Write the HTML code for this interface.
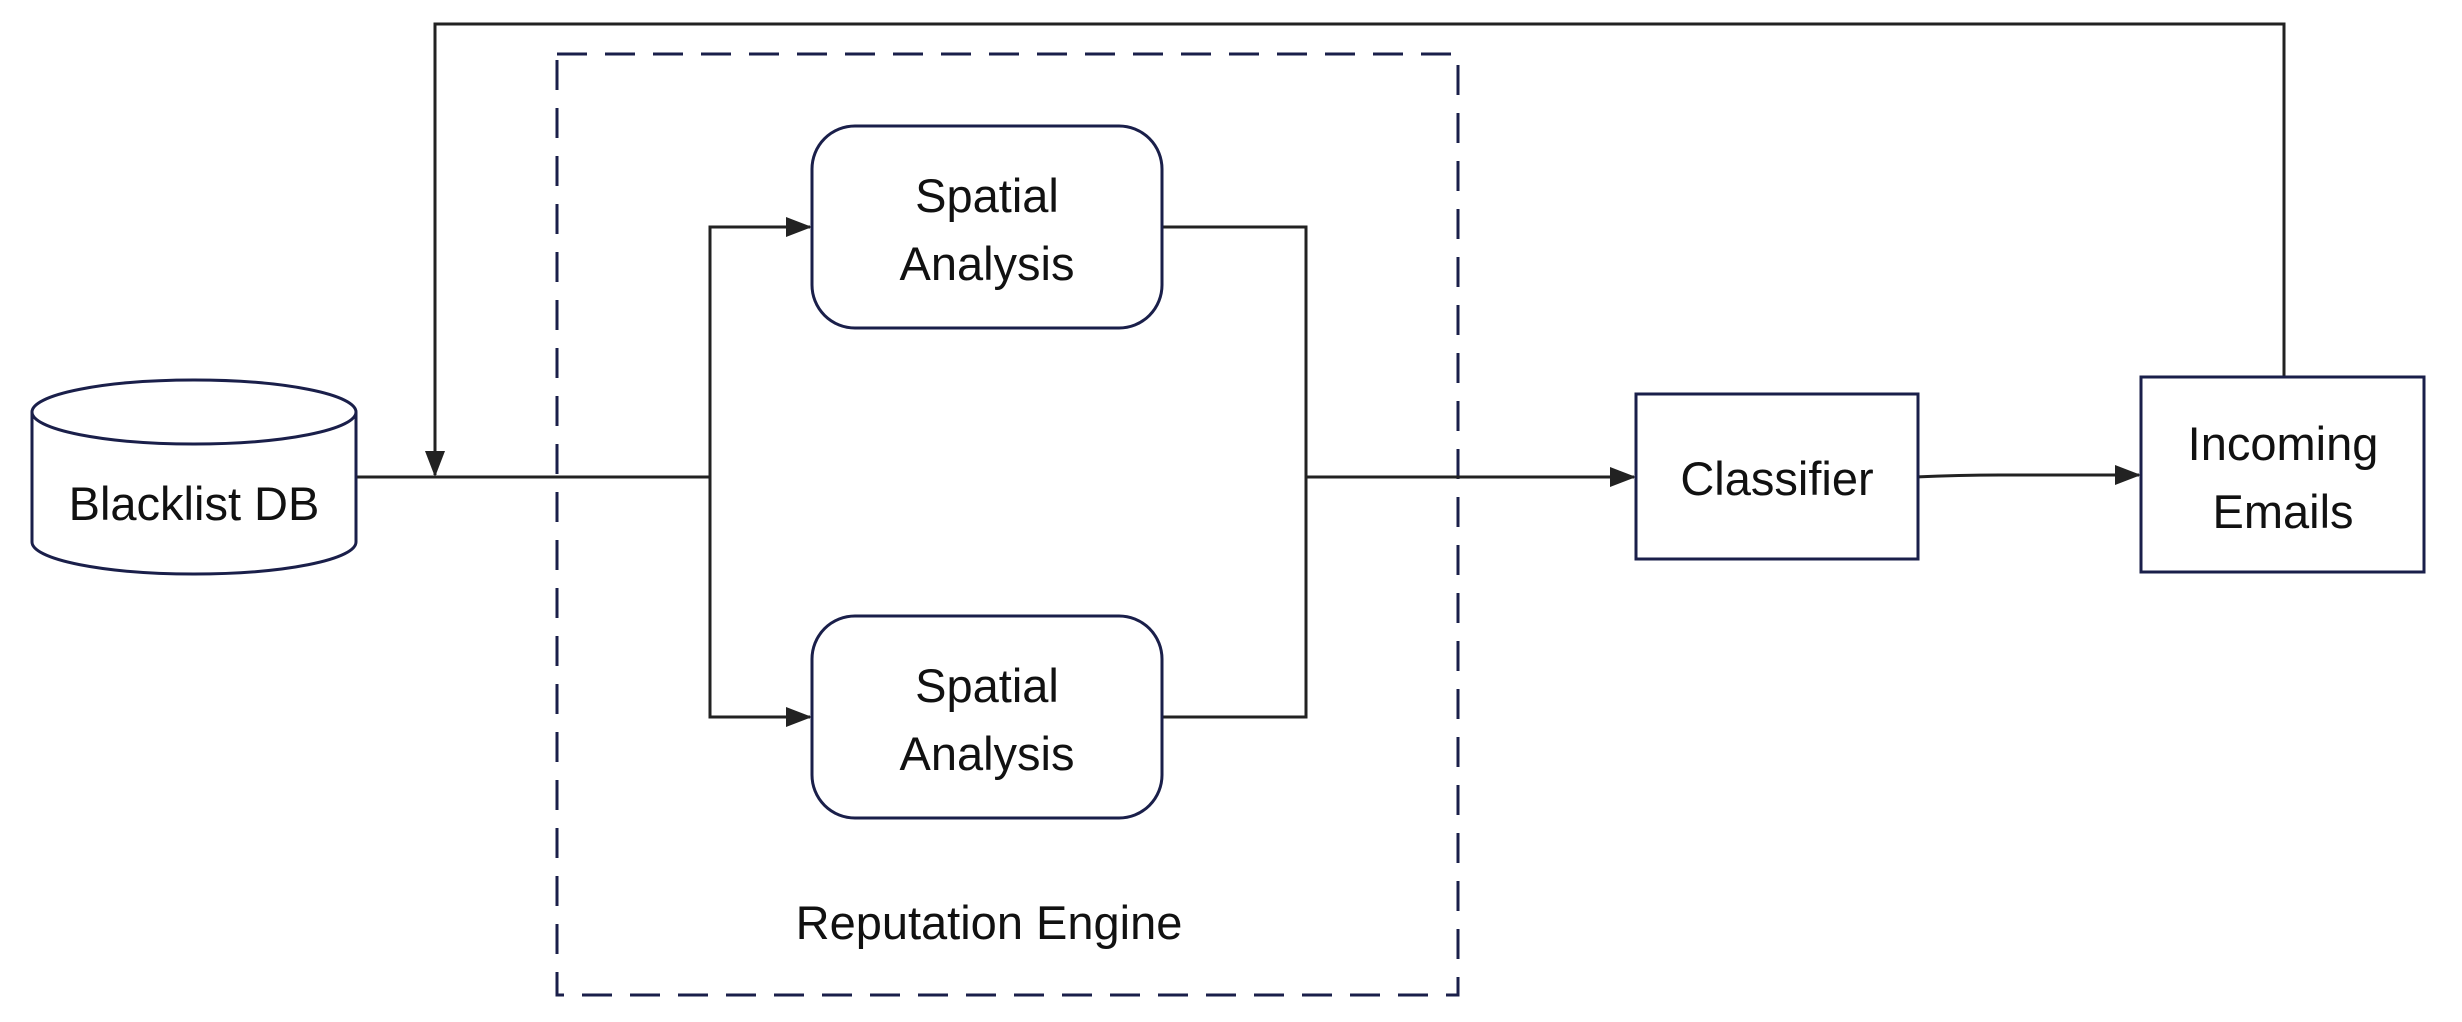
<!DOCTYPE html>
<html><head><meta charset="utf-8"><style>
html,body{margin:0;padding:0;background:#fff;width:2462px;height:1022px;overflow:hidden}
text{font-family:"Liberation Sans","DejaVu Sans",sans-serif;font-size:47px;fill:#111}
</style></head><body>
<svg width="2462" height="1022" viewBox="0 0 2462 1022" xmlns="http://www.w3.org/2000/svg">
<defs>
<marker id="b" markerWidth="26" markerHeight="26" refX="24" refY="13" orient="auto" markerUnits="userSpaceOnUse" viewBox="0 0 26 26"><path d="M0,3 L26,13 L0,23z" fill="#222"/></marker></defs>
<g fill="none" stroke="#222" stroke-width="3">
<rect x="557" y="54" width="901" height="941" stroke="#1a1f4a" stroke-dasharray="30,18"/>
<polyline points="2284,377 2284,24 435,24 435,475" marker-end="url(#b)"/>
<line x1="356" y1="477" x2="710" y2="477"/>
<polyline points="710,477 710,227 810,227" marker-end="url(#b)"/>
<polyline points="710,477 710,717 810,717" marker-end="url(#b)"/>
<polyline points="1162,227 1306,227 1306,717 1162,717"/>
<line x1="1306" y1="477" x2="1634" y2="477" marker-end="url(#b)"/>
<path d="M1915,477 Q1960,475 2000,475 L2139,475" marker-end="url(#b)"/>
</g>
<g fill="#fff" stroke="#1a1f4a" stroke-width="3">
<path d="M32,412 L32,542 A162,32 0 0 0 356,542 L356,412"/>
<ellipse cx="194" cy="412" rx="162" ry="32"/>
<rect x="812" y="126" width="350" height="202" rx="43"/>
<rect x="812" y="616" width="350" height="202" rx="43"/>
<rect x="1636" y="394" width="282" height="165"/>
<rect x="2141" y="377" width="283" height="195"/>
</g>
<g text-anchor="middle">
<text x="194" y="520">Blacklist DB</text>
<text x="987" y="212">Spatial</text><text x="987" y="280">Analysis</text>
<text x="987" y="702">Spatial</text><text x="987" y="770">Analysis</text>
<text x="989" y="939">Reputation Engine</text>
<text x="1777" y="495">Classifier</text>
<text x="2283" y="460">Incoming</text><text x="2283" y="528">Emails</text>
</g>
</svg>
</body></html>
